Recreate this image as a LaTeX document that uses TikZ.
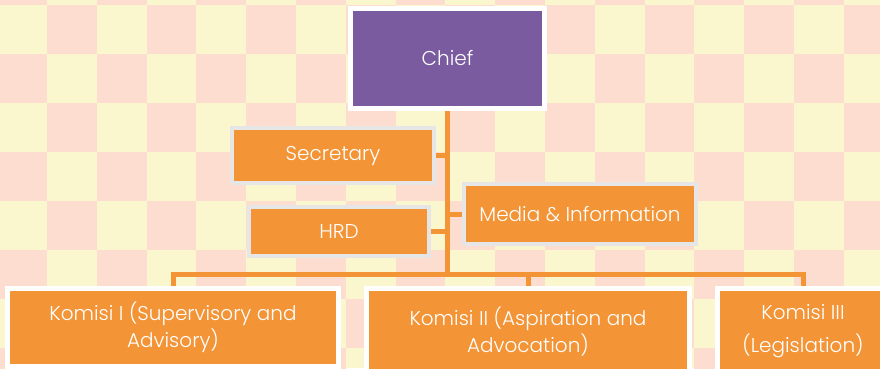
\documentclass[tikz,border=0pt]{standalone}
\usepackage{fontspec}
\setmainfont{Poppins Light}
\usetikzlibrary{positioning,calc}

\definecolor{boxorange}{HTML}{F39437}
\definecolor{chiefpurple}{HTML}{7A5BA0}
\definecolor{framegray}{HTML}{E6E6E6}
\definecolor{tilepink}{HTML}{FCDDD0}
\definecolor{tileyellow}{HTML}{FAF7CF}

\tikzset{
  unit/.style={fill=boxorange, text=white, inner sep=0pt, align=center,
    font=\fontsize{20}{27}\selectfont},
  staff/.style={unit, draw=framegray, line width=4.5pt},
  komisi/.style={unit, draw=white, line width=5pt},
  link/.style={draw=boxorange, line width=5pt},
}

\begin{document}
\begin{tikzpicture}[x=1pt,y=-1pt]
    \useasboundingbox (0,0) rectangle (880,368);
    \clip (0,0) rectangle (880,368);

    % Background tiles
    \fill[tileyellow] (0,0) rectangle (880,368);
    \foreach \i in {-1,...,16}
      \foreach \j in {-1,...,7}{
        \pgfmathtruncatemacro\tileodd{mod(\i+\j+10,2)}
        \ifnum\tileodd=0
          \fill[tilepink] (47+49.8*\i,5+49*\j) rectangle ++(49.8,49);
        \fi
      }

    % Chief
    \node[komisi, fill=chiefpurple, minimum width=194pt, minimum height=100pt] (chief) at (447.5,58.5) {Chief};

    % Staff
    \node[staff, minimum width=202pt, minimum height=55pt] (secretary) at (333,155.5) {Secretary};
    \node[staff, minimum width=180pt, minimum height=49pt] (hrd) at (339,231.5) {HRD};
    \node[staff, minimum width=232pt, minimum height=60pt] (media) at (580,214) {Media \& Information};

    % Komisi
    \node[komisi, minimum width=331pt, minimum height=78pt] (komisi1) at (173,327) {Komisi I (Supervisory and\\Advisory)};
    \node[komisi, minimum width=323pt, minimum height=86pt] (komisi2) at (528,331.5) {Komisi II (Aspiration and\\Advocation)};
    \node[komisi, minimum width=171pt, minimum height=86pt] (komisi3) at (803,331) {Komisi III\\[6pt](Legislation)};

    % Lines
    \coordinate (bar) at (447.5,274.5);
    \draw[link] (chief.south) -- (bar);
    \draw[link] (komisi1.north) |- (bar) -| (komisi3.north);
    \draw[link] (komisi2.north) -- (komisi2.north |- bar);
    \draw[link] (secretary.east) -- (secretary.east -| chief.south);
    \draw[link] (hrd.east) -- (hrd.east -| chief.south);
    \draw[link] (media.west) -- (media.west -| chief.south);
\end{tikzpicture}
\end{document}
